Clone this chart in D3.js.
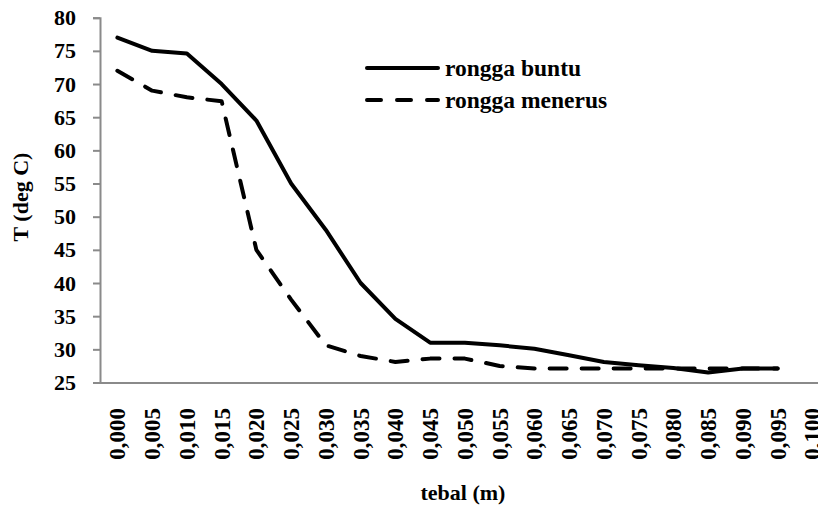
<!DOCTYPE html>
<html>
<head>
<meta charset="utf-8">
<script src="https://cdn.jsdelivr.net/npm/d3@7"></script>
<style>
  html, body { margin: 0; padding: 0; background: #fff; }
  svg { display: block; }
</style>
</head>
<body>
<svg id="chart" width="818" height="508"></svg>
<script>
// ---- data ----
const categories = ["0,000","0,005","0,010","0,015","0,020","0,025","0,030","0,035","0,040","0,045",
                    "0,050","0,055","0,060","0,065","0,070","0,075","0,080","0,085","0,090","0,095","0,100"];
const ronggaBuntu   = [77, 75, 74.6, 70, 64.5, 55, 48, 40, 34.6, 31, 31, 30.6, 30.1, 29.1, 28.1, 27.6, 27.2, 26.5, 27.1, 27.1];
const ronggaMenerus = [72, 69, 68, 67.4, 45, 37.5, 30.6, 29, 28.1, 28.6, 28.6, 27.5, 27.1, 27.1, 27.1, 27.1, 27.1, 27.1, 27.1, 27.1];
const seriesNames = ["rongga buntu", "rongga menerus"];
const yTicks = [25, 30, 35, 40, 45, 50, 55, 60, 65, 70, 75, 80];
const yTitle = "T (deg C)";
const xTitle = "tebal (m)";

// ---- layout ----
const FONT = "'Liberation Serif', 'Times New Roman', serif";
const svg = d3.select("#chart");
const plotLeft = 100, plotBottom = 382.5, plotTop = 17.7;
const step = 34.75;
const x = d3.scaleBand().domain(categories).range([plotLeft, plotLeft + step * categories.length]).paddingInner(0).paddingOuter(0);
const y = d3.scaleLinear().domain([25, 80]).range([plotBottom, plotTop]);
const cx = c => x(c) + x.bandwidth() / 2;
const axisColor = "#8a8a8a";

// y axis
const yAxis = d3.axisLeft(y).tickValues(yTicks).tickSize(7).tickPadding(17).tickFormat(d3.format("d"));
const gy = svg.append("g").attr("transform", `translate(${plotLeft},0)`).call(yAxis)
  .attr("font-family", FONT).attr("font-weight", "bold");
gy.select(".domain").attr("stroke", axisColor).attr("stroke-width", 2);
gy.selectAll(".tick line").attr("stroke", axisColor).attr("stroke-width", 2);
gy.selectAll(".tick text").attr("font-size", 22).attr("font-family", FONT).attr("font-weight", "bold").attr("fill", "#000");

// x axis (no tick marks)
const xAxis = d3.axisBottom(x).tickSize(0).tickFormat(() => "");
const gx = svg.append("g").attr("transform", `translate(0,${plotBottom})`).call(xAxis);
gx.select(".domain").attr("stroke", axisColor).attr("stroke-width", 2);

// x labels, rotated
svg.append("g").attr("font-family", FONT).attr("font-weight", "bold")
  .selectAll("text").data(categories).join("text")
  .attr("transform", d => `translate(${cx(d)},408) rotate(-90)`)
  .attr("text-anchor", "end")
  .attr("dy", "0.35em")
  .attr("font-size", 23)
  .attr("fill", "#000")
  .text(d => d);

// lines
const xsData = categories.slice(0, ronggaBuntu.length);
const line = d3.line().x((d, i) => cx(xsData[i])).y(d => y(d));
svg.append("path").datum(ronggaMenerus)
  .attr("d", line).attr("fill", "none").attr("stroke", "#000").attr("stroke-width", 4)
  .attr("stroke-dasharray", "17,15").attr("stroke-linecap", "round").attr("stroke-linejoin", "round");
svg.append("path").datum(ronggaBuntu)
  .attr("d", line).attr("fill", "none").attr("stroke", "#000").attr("stroke-width", 4)
  .attr("stroke-linecap", "round").attr("stroke-linejoin", "round");

// axis titles
svg.append("text").attr("transform", "translate(28,197) rotate(-90)")
  .attr("font-family", FONT).attr("font-weight", "bold")
  .attr("text-anchor", "middle").attr("font-size", 22).text(yTitle);
svg.append("text").attr("x", 463).attr("y", 500)
  .attr("font-family", FONT).attr("font-weight", "bold")
  .attr("text-anchor", "middle").attr("font-size", 22).text(xTitle);

// legend
const legend = svg.append("g").attr("font-family", FONT).attr("font-weight", "bold");
const legY = [68, 100];
seriesNames.forEach((name, i) => {
  legend.append("line").attr("x1", 367).attr("x2", 438).attr("y1", legY[i]).attr("y2", legY[i])
    .attr("stroke", "#000").attr("stroke-width", 4).attr("stroke-linecap", "round")
    .attr("stroke-dasharray", i === 1 ? "14,16" : null);
  legend.append("text").attr("x", 445).attr("y", legY[i] + 8).attr("font-size", 23.5).text(name);
});
</script>
</body>
</html>
